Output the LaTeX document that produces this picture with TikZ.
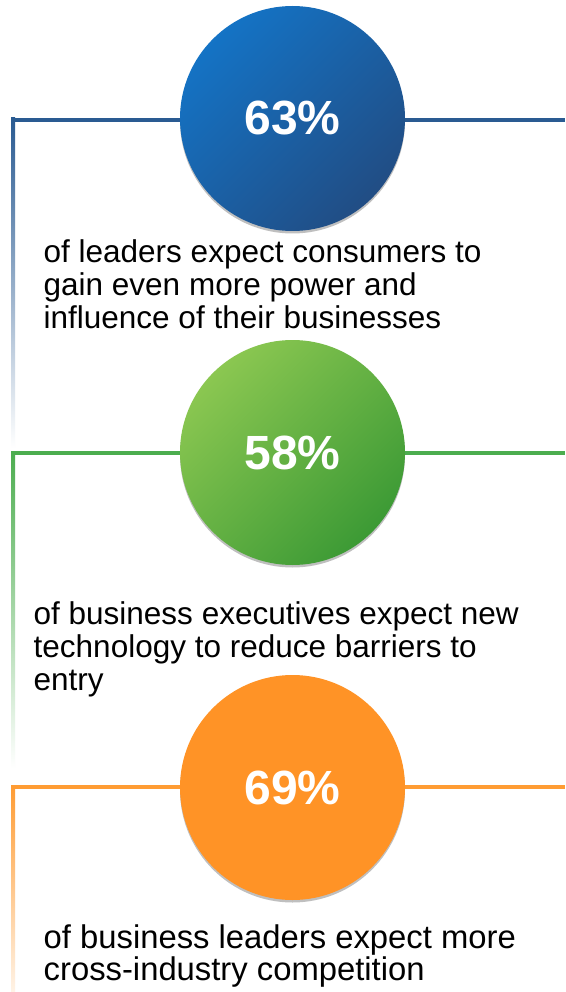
\documentclass[tikz,border=0pt]{standalone}
\usepackage{fontspec}
\setmainfont{Liberation Sans}
\usetikzlibrary{shadows}
\definecolor{blueA}{HTML}{1473C5}
\definecolor{blueB}{HTML}{214D84}
\definecolor{blueLine}{HTML}{2A5B92}
\definecolor{greenA}{HTML}{8BC751}
\definecolor{greenB}{HTML}{3C9A35}
\definecolor{greenLine}{HTML}{4CAD4F}
\definecolor{orangeA}{HTML}{FF9326}
\definecolor{orangeLine}{HTML}{FF9C33}
\tikzset{
  stat/.style={circle, minimum size=225pt, inner sep=0pt, text=white,
    font=\fontsize{48}{50}\selectfont\bfseries,
    drop shadow={shadow xshift=0pt, shadow yshift=-2.5pt, opacity=0.25, fill=black}},
  hline/.style={line width=4pt},
  caption/.style={anchor=base west, inner sep=0pt, align=left, text=black,
    font=\fontsize{31.5}{32.8}\selectfont},
}
\begin{document}
\begin{tikzpicture}[x=1pt,y=-1pt]
\useasboundingbox (0,0) rectangle (565,992);
\fill[white] (0,0) rectangle (565,992);
% coordinates
\coordinate (l1) at (13,120);  \coordinate (r1) at (565,120);  \coordinate (v1) at (13,448);
\coordinate (l2) at (13,453);  \coordinate (r2) at (565,453);  \coordinate (v2) at (13,768);
\coordinate (l3) at (13,787);  \coordinate (r3) at (565,787);  \coordinate (v3) at (13,992);
% blue
\shade[top color=blueLine, bottom color=white] ([xshift=-2pt,yshift=2pt]l1) rectangle ([xshift=2pt]v1);
\draw[hline, blueLine] (l1) -- (r1);
\node[stat, top color=blueA, bottom color=blueB, shading angle=45] (c1) at (292.5,118.5) {63\%};
\node[caption] (t1) at (43.5,328) {of leaders expect consumers to\\gain even more power and\\influence of their businesses};
% green
\shade[top color=greenLine, bottom color=white] ([xshift=-2pt,yshift=2pt]l2) rectangle ([xshift=2pt]v2);
\draw[hline, greenLine] (l2) -- (r2);
\node[stat, top color=greenA, bottom color=greenB, shading angle=45] (c2) at (292.5,452.5) {58\%};
\node[caption] (t2) at (33.5,690) {of business executives expect new\\technology to reduce barriers to\\entry};
% orange
\shade[top color=orangeLine, bottom color=orangeLine!12] ([xshift=-2pt,yshift=2pt]l3) rectangle ([xshift=2pt]v3);
\draw[hline, orangeLine] (l3) -- (r3);
\node[stat, fill=orangeA] (c3) at (292.5,787.5) {69\%};
\node[caption, font=\fontsize{32.8}{32}\selectfont] (t3) at (43.5,980) {of business leaders expect more\\cross-industry competition};
\end{tikzpicture}
\end{document}
